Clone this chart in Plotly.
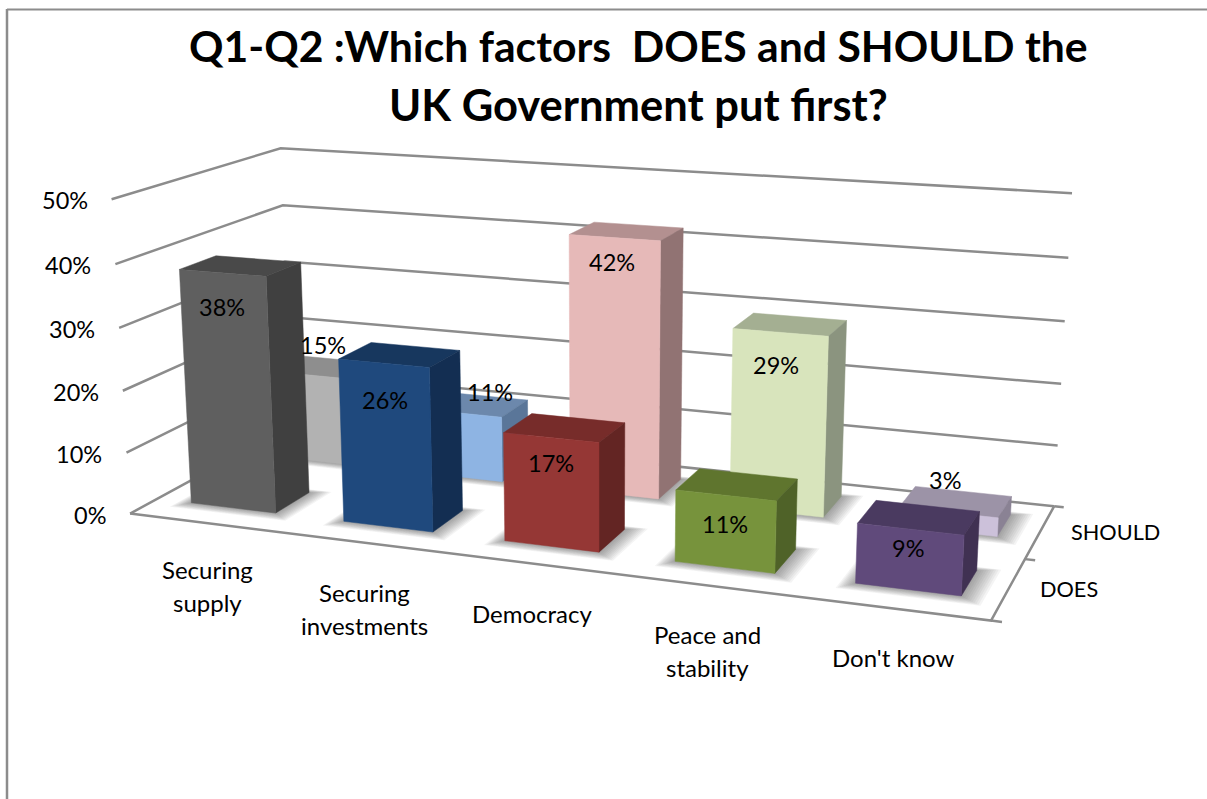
import numpy as np
import plotly.graph_objects as go

CATEGORIES = [["Securing", "supply"], ["Securing", "investments"], ["Democracy"], ["Peace and", "stability"], ["Don't know"]]
DOES = [38, 26, 17, 11, 9]
SHOULD = [15, 11, 42, 29, 3]
VALUE_TICKS = [0, 10, 20, 30, 40, 50]

DOES_FACES = [("#5f5f5f", "#494949", "#404040"), ("#1f497d", "#17375e", "#132e52"), ("#953735", "#772c2a", "#632523"),
              ("#77933c", "#5f752e", "#4f6228"), ("#604a7b", "#4a3a60", "#403152")]
SHOULD_FACES = [("#b2b2b2", "#8e8e8e", "#777777"), ("#8eb4e3", "#6c88ac", "#5a7699"), ("#e6b9b8", "#b39090", "#917373"),
                ("#d8e4bc", "#a4af92", "#8b947f"), ("#ccc1da", "#9c93a7", "#8a8294")]

# Pixel nudges of the value labels away from the top front edge of their bars.
DOES_LABEL_SHIFT = [(0, 34), (1, 37), (0, 25), (-1, 29), (-2, 19)]
SHOULD_LABEL_SHIFT = [(12, -30), (31, -21), (-2, 24), (-4, 33), (-3, -32)]
# Pixel nudges of the category captions under the floor.
CATEGORY_SHIFT = [(0, -4), (0, 0), (1, 0), (0, -1), (-2, -1)]

# Camera calibration: plot-box coordinates (across, depth, percent) and where they land on the page.
CAL = [((0, 0, 0), (130, 514)), ((0, 0, 10), (127, 453)), ((0, 0, 20), (122, 392)), ((0, 0, 30), (119, 329)),
       ((0, 0, 40), (116, 264)), ((0, 0, 50), (112, 199)),
       ((0, 1, 0), (294, 426)), ((0, 1, 40), (284, 204)), ((0, 1, 50), (281, 146)),
       ((1, 1, 0), (1055, 506)), ((1, 1, 10), (1059, 446)), ((1, 1, 20), (1062, 383)), ((1, 1, 30), (1066, 322)),
       ((1, 1, 40), (1069, 258)), ((1, 1, 50), (1072, 194)), ((1, 0, 0), (992, 620)),
       # box tops and feet
       ((.046, .152, 38), (178, 268)), ((.158, .152, 38), (268, 276)), ((.158, .362, 38), (300, 263)),
       ((.046, .152, 0), (190, 504)), ((.158, .152, 0), (276, 513)), ((.158, .362, 0), (307, 493)),
       ((.446, .665, 42), (567, 235)), ((.558, .665, 42), (661, 241)), ((.558, .875, 42), (682, 229)),
       ((.558, .665, 0), (658, 499)), ((.558, .875, 0), (679, 477)),
       ((.646, .665, 29), (730, 329)), ((.758, .665, 29), (828, 337)), ((.758, .875, 29), (845, 323)),
       ((.758, .665, 0), (823, 518)), ((.758, .875, 0), (840, 495)),
       ((.246, .152, 26), (338, 358)), ((.358, .152, 26), (432, 366)), ((.358, .362, 26), (460, 351)),
       ((.246, .152, 0), (343, 522)), ((.358, .152, 0), (434, 532)), ((.358, .362, 0), (462, 512)),
       ((.846, .152, 9), (855, 522)), ((.958, .152, 9), (966, 534)), ((.958, .362, 9), (978, 512)),
       ((.846, .152, 0), (853, 582)), ((.958, .152, 0), (962, 594)), ((.958, .362, 0), (976, 572)),
       ((.446, .152, 17), (503, 432)), ((.558, .152, 17), (602, 443)), ((.558, .362, 17), (624, 424)),
       ((.446, .152, 0), (504, 541)), ((.558, .152, 0), (602, 552)), ((.558, .362, 0), (625, 530)),
       ((.646, .152, 11), (675, 489)), ((.758, .152, 11), (778, 500)), ((.758, .362, 11), (798, 480)),
       ((.646, .152, 0), (674, 561)), ((.758, .152, 0), (777, 573)), ((.758, .362, 0), (796, 550))]

rows = []
rhs = []
for (a, b, c), (u, v) in CAL:
    c = c / 50
    rows.append([a, b, c, 1, 0, 0, 0, 0, -u * a, -u * b, -u * c])
    rows.append([0, 0, 0, 0, a, b, c, 1, -v * a, -v * b, -v * c])
    rhs += [u, v]
sol = np.linalg.lstsq(np.array(rows, float), np.array(rhs, float), rcond=None)[0]
P = np.append(sol, 1).reshape(3, 4)


def project(a, b, c):
    w = P @ np.array([a, b, c / 50, 1.0])
    return w[0] / w[2], w[1] / w[2]


def path(points):
    xy = [project(*p) for p in points]
    return [q[0] for q in xy], [q[1] for q in xy]


BAR_HALF_W = 0.056
BAR_HALF_D = 0.105
DOES_DEPTH = 0.257
SHOULD_DEPTH = 0.77
GREY = "#8c8c8c"
FONT = "Lato"

fig = go.Figure()


def line(points, width=2.5):
    x, y = path(points)
    fig.add_trace(go.Scatter(x=x, y=y, mode="lines", line=dict(color=GREY, width=width), hoverinfo="skip", showlegend=False))


# Walls and floor outline
for t in VALUE_TICKS:
    line([(0, 0, t), (0, 1, t), (1, 1, t)])
line([(0, 0, 0), (1, 0, 0), (1, 1, 0)])
for d in (0, 0.5, 1):
    line([(1, d, 0), (1.011, d, 0)])


def face(points, color, name):
    x, y = path(points)
    fig.add_trace(go.Scatter(x=x, y=y, mode="lines", fill="toself", fillcolor=color, line=dict(color=color, width=0.5),
                             name=name, hoverinfo="skip", showlegend=False))


def shadow(xc, yc):
    # Soft floor shadow built up from growing, nearly transparent footprints
    for k in range(10, 0, -1):
        grow = k / 10
        a0, a1 = xc - BAR_HALF_W - 0.016 * grow, xc + BAR_HALF_W + 0.024 * grow
        b0, b1 = yc - BAR_HALF_D - 0.055 * grow, yc + BAR_HALF_D + 0.03 * grow
        x, y = path([(a0, b0, 0), (a1, b0, 0), (a1, b1, 0), (a0, b1, 0), (a0, b0, 0)])
        fig.add_trace(go.Scatter(x=x, y=y, mode="none", fill="toself", fillcolor="rgba(60,60,60,0.055)",
                                 hoverinfo="skip", showlegend=False))


def bar(xc, yc, v, colors, name):
    a0, a1 = xc - BAR_HALF_W, xc + BAR_HALF_W
    b0, b1 = yc - BAR_HALF_D, yc + BAR_HALF_D
    face([(a0, b0, v), (a1, b0, v), (a1, b1, v), (a0, b1, v), (a0, b0, v)], colors[1], name)
    face([(a1, b0, 0), (a1, b1, 0), (a1, b1, v), (a1, b0, v), (a1, b0, 0)], colors[2], name)
    face([(a0, b0, 0), (a1, b0, 0), (a1, b0, v), (a0, b0, v), (a0, b0, 0)], colors[0], name)


centres = [(i + 0.5) / len(CATEGORIES) + 0.002 for i in range(len(CATEGORIES))]
for depth in (SHOULD_DEPTH, DOES_DEPTH):
    for xc in centres:
        shadow(xc, depth)
for vals, cols, depth, nm in [(SHOULD, SHOULD_FACES, SHOULD_DEPTH, "SHOULD"), (DOES, DOES_FACES, DOES_DEPTH, "DOES")]:
    for xc, v, c, cat in zip(centres, vals, cols, CATEGORIES):
        bar(xc, depth, v, c, nm + " " + " ".join(cat))

notes = []


def text(x, y, s, size, anchor="center", bold=False):
    notes.append(dict(x=x, y=y, xref="x", yref="y", text=f"<b>{s}</b>" if bold else s, showarrow=False, xanchor=anchor,
                      yanchor="middle", font=dict(family=FONT, size=size, color="#000000")))


for t in VALUE_TICKS:
    px, py = project(0, 0, t)
    text(px - 22, py + 1, f"{t}%", 23.5, "right")

for vals, shifts, depth in [(DOES, DOES_LABEL_SHIFT, DOES_DEPTH), (SHOULD, SHOULD_LABEL_SHIFT, SHOULD_DEPTH)]:
    for xc, v, (dx, dy) in zip(centres, vals, shifts):
        px, py = project(xc, depth - BAR_HALF_D, v)
        text(px + dx, py + dy, f"{v}%", 23.5)

for xc, lines, (dx, dy) in zip(centres, CATEGORIES, CATEGORY_SHIFT):
    px, py = project(xc, 0, 0)
    for j, s in enumerate(lines):
        text(px + dx, py + dy + 50 + 33 * j, s, 24)

for nm, depth in [("DOES", 0.25), ("SHOULD", 0.75)]:
    px, py = project(1, depth, 0)
    text(px + 29, py, nm, 21.7, "left")

text(638.5, 45, "Q1-Q2 :Which factors \u00a0DOES and SHOULD the", 42.7, bold=True)
text(638.5, 104, "UK Government put first?", 43.5, bold=True)

fig.update_layout(
    width=1207, height=799, autosize=False, margin=dict(l=0, r=0, t=0, b=0), paper_bgcolor="white", plot_bgcolor="white",
    showlegend=False, annotations=notes,
    xaxis=dict(range=[0, 1207], visible=False, fixedrange=True),
    yaxis=dict(range=[799, 0], visible=False, fixedrange=True),
    shapes=[dict(type="line", xref="x", yref="y", x0=7, x1=7, y0=9, y1=799, line=dict(color=GREY, width=2.5)),
            dict(type="line", xref="x", yref="y", x0=7, x1=1207, y0=9.5, y1=9.5, line=dict(color=GREY, width=2))],
)
fig.write_html("out.html")
